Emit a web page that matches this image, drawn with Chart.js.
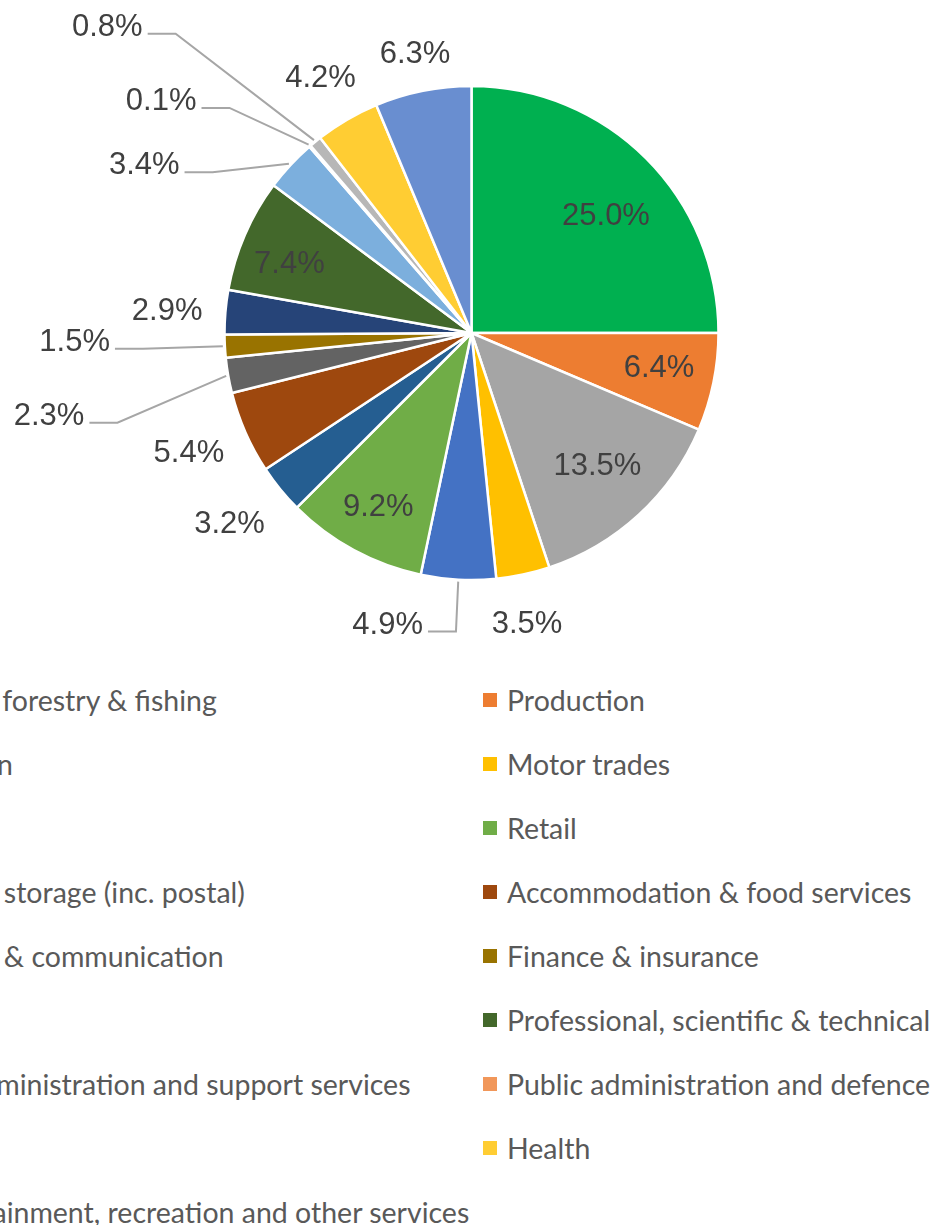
<!DOCTYPE html>
<html>
<head>
<meta charset="utf-8">
<title>Businesses by industry</title>
<script src="https://cdn.jsdelivr.net/npm/chart.js@4.4.1/dist/chart.umd.min.js"></script>
<style>
  html, body { margin: 0; padding: 0; background: #fff; overflow: hidden; }
  #wrap { position: relative; width: 933px; height: 1225px; overflow: hidden; }
  #pie { position: absolute; left: 0; top: 0; }
  /* two column legend, the left column runs off the page edge */
  #legend {
    position: absolute; left: -174px; top: 668px;
    display: grid; grid-template-columns: 657px 657px; grid-auto-rows: 64px;
    font-family: Lato, "Open Sans", sans-serif; font-size: 28.5px; color: #595959;
  }
  .item { display: flex; align-items: center; white-space: nowrap; }
  .box { width: 14px; height: 14px; margin-right: 10px; flex: none; }
</style>
</head>
<body>
<div id="wrap">
  <canvas id="pie" width="933" height="666"></canvas>
  <div id="legend"></div>
</div>
<script>
const industries = [
  'Agriculture, forestry & fishing', 'Production', 'Construction', 'Motor trades',
  'Wholesale', 'Retail', 'Transport & storage (inc. postal)', 'Accommodation & food services',
  'Information & communication', 'Finance & insurance', 'Property',
  'Professional, scientific & technical', 'Business administration and support services',
  'Public administration and defence', 'Education', 'Health',
  'Arts, entertainment, recreation and other services'
];
const shares = [25.0, 6.4, 13.5, 3.5, 4.9, 9.2, 3.2, 5.4, 2.3, 1.5, 2.9, 7.4, 3.4, 0.1, 0.8, 4.2, 6.3];
const colours = [
  '#00B050', '#ED7D31', '#A5A5A5', '#FFC000', '#4472C4', '#70AD47', '#255E91', '#9E480E',
  '#636363', '#997300', '#264478', '#43682B', '#7CAFDD', '#F1975A', '#B7B7B7', '#FFCD33', '#698ED0'
];

// where each % label sits: distance from centre (x radius) and a turn off the slice middle (deg)
const labelDist = [0.727, 0.771, 0.736, 1.193, 1.22, 0.792, 1.242, 1.24, 1.741, 1.607, 1.236, 0.792, 1.493, 1.574, 1.932, 1.206, 1.162];
const labelTurn = [3.5, -1.5, -1.2, 1.2, 13.1, 0, 1.3, 1.1, -0.9, 2.1, -0.4, -2, -15.4, -12.1, -10.5, -0.2, 0];
const leader    = [0, 0, 0, 0, 1, 0, 0, 0, 1, 1, 0, 0, 1, 1, 1, 0, 0];

const LABEL_SIZE = 31;

// percentage labels + leader lines for the ones pushed away from their slice
const sliceLabels = {
  id: 'sliceLabels',
  afterDatasetsDraw(chart) {
    const ctx = chart.ctx;
    const arcs = chart.getDatasetMeta(0).data;
    ctx.save();
    ctx.font = LABEL_SIZE + 'px "Liberation Sans", Arial, sans-serif';
    ctx.textAlign = 'center';
    ctx.textBaseline = 'alphabetic';
    ctx.lineWidth = 2;
    ctx.strokeStyle = '#A6A6A6';
    arcs.forEach((arc, i) => {
      const p = arc.getProps(['x', 'y', 'startAngle', 'endAngle', 'outerRadius'], true);
      const mid = (p.startAngle + p.endAngle) / 2;
      const a = mid + labelTurn[i] * Math.PI / 180;
      const r = p.outerRadius * labelDist[i];
      const lx = p.x + Math.cos(a) * r;
      const ly = p.y + Math.sin(a) * r;
      const text = shares[i].toFixed(1) + '%';
      const base = ly + LABEL_SIZE * 0.358;
      ctx.fillStyle = '#404040';
      ctx.fillText(text, lx, base);

      if (leader[i]) {
        const w = ctx.measureText(text).width;
        const ex = p.x + Math.cos(mid) * (p.outerRadius + 2);
        const ey = p.y + Math.sin(mid) * (p.outerRadius + 2);
        const side = ex > lx ? 1 : -1;
        const sx = lx + side * (w / 2 + 5);
        const sy = base - 2;
        ctx.beginPath();
        ctx.moveTo(sx, sy);
        ctx.lineTo(sx + side * 28, sy);
        ctx.lineTo(ex, ey);
        ctx.stroke();
      }
    });
    ctx.restore();
  }
};

new Chart(document.getElementById('pie'), {
  type: 'pie',
  data: {
    labels: industries,
    datasets: [{
      data: shares,
      backgroundColor: colours,
      borderColor: '#ffffff',
      borderWidth: 2.5
    }]
  },
  options: {
    responsive: false,
    animation: false,
    devicePixelRatio: 1,
    radius: 247,
    layout: { padding: { left: 10, right: 0, top: 0, bottom: 0 } },
    plugins: {
      legend: { display: false },
      tooltip: { enabled: false }
    }
  },
  plugins: [sliceLabels]
});

// legend, filled row by row like the chart's own order
const legendEl = document.getElementById('legend');
industries.forEach((name, i) => {
  const item = document.createElement('div');
  item.className = 'item';
  const box = document.createElement('span');
  box.className = 'box';
  box.style.background = colours[i];
  const label = document.createElement('span');
  label.textContent = name;
  item.appendChild(box);
  item.appendChild(label);
  legendEl.appendChild(item);
});
</script>
</body>
</html>
